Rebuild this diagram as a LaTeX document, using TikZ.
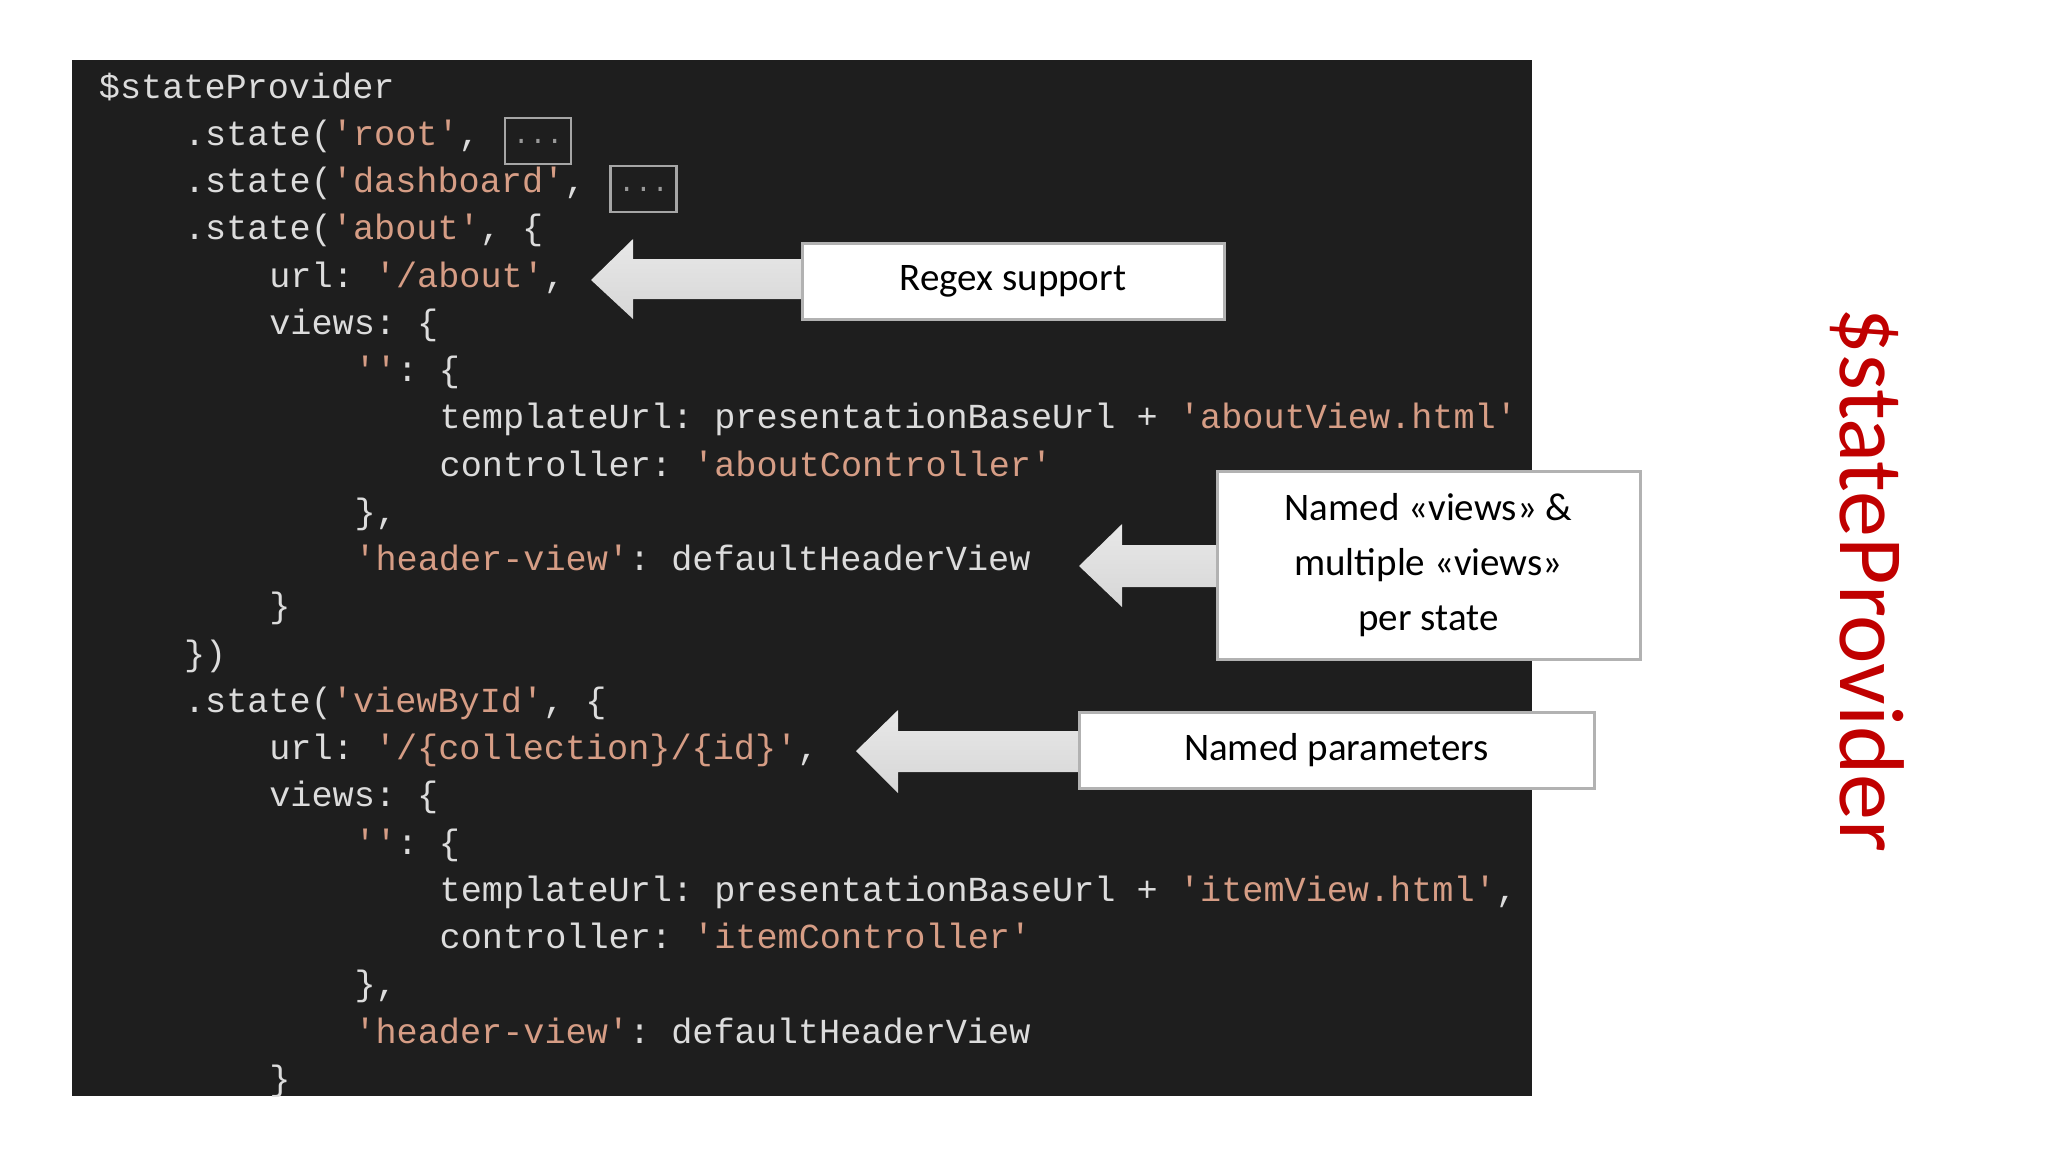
\documentclass[tikz,border=0pt]{standalone}
\usepackage{fontspec}
\setmainfont{Carlito}
\setmonofont{Liberation Mono}
\begin{document}
\definecolor{bgc}{HTML}{1E1E1E}
\definecolor{codec}{HTML}{DCDCDC}
\definecolor{strc}{HTML}{D69D85}
\definecolor{redc}{HTML}{C00000}
\newcommand\str[1]{\textcolor{strc}{#1}}
\begin{tikzpicture}[x=0.5pt,y=-0.5pt,
  code/.style={anchor=west,inner sep=0pt,text=codec,font=\ttfamily\fontsize{17.6}{20}\selectfont,text height=0.75em,text depth=0.25em},
  dots/.style={draw=gray!70,line width=1.2pt,inner sep=0pt,minimum width=33pt,minimum height=23pt,text=gray!80,font=\ttfamily\fontsize{14}{16}\selectfont},
  callout/.style={draw=gray!60,line width=1.5pt,fill=white,inner sep=0pt,font=\fontsize{19.5}{27.5}\selectfont,align=center},
  barrow/.style={top color=gray!18,bottom color=gray!32,draw=none}]
\useasboundingbox (0,0) rectangle (2048,1152);
\fill[white] (0,0) rectangle (2048,1152);
\fill[bgc] (72,60) rectangle (1532,1096);
\newcommand\cl[3]{\node[code] at ({98.5+21.3*#1},{93.2+47.25*(#2-1)}) {#3};}
\begin{scope}
\clip (72,60) rectangle (1532,1096);
\cl{0}{1}{\$stateProvider}
\cl{4}{2}{.state(\str{'root'},}
\cl{4}{3}{.state(\str{'dashboard'},}
\cl{4}{4}{.state(\str{'about'}, \{}
\cl{8}{5}{url: \str{'/about'},}
\cl{8}{6}{views: \{}
\cl{12}{7}{\str{''}: \{}
\cl{16}{8}{templateUrl: presentationBaseUrl + \str{'aboutView.html'}}
\cl{16}{9}{controller: \str{'aboutController'}}
\cl{12}{10}{\},}
\cl{12}{11}{\str{'header-view'}: defaultHeaderView}
\cl{8}{12}{\}}
\cl{4}{13}{\})}
\cl{4}{14}{.state(\str{'viewById'}, \{}
\cl{8}{15}{url: \str{'/\{collection\}/\{id\}'},}
\cl{8}{16}{views: \{}
\cl{12}{17}{\str{''}: \{}
\cl{16}{18}{templateUrl: presentationBaseUrl + \str{'itemView.html'},}
\cl{16}{19}{controller: \str{'itemController'}}
\cl{12}{20}{\},}
\cl{12}{21}{\str{'header-view'}: defaultHeaderView}
\cl{8}{22}{\}}
\end{scope}
\node[dots] (d1) at (538,141) {...};
\node[dots] (d2) at (643.5,189) {...};
% arrows
\fill[barrow] (591,280) -- (633,239) -- (633,259) -- (802,259) -- (802,299) -- (633,299) -- (633,319) -- cycle;
\fill[barrow] (1079,566) -- (1122,524) -- (1122,545) -- (1217,545) -- (1217,587) -- (1122,587) -- (1122,607) -- cycle;
\fill[barrow] (856,751) -- (898,710) -- (898,731) -- (1079,731) -- (1079,772) -- (898,772) -- (898,793) -- cycle;
\node[callout,minimum width=211pt,minimum height=38pt] (c1) at (1013,281) {Regex support};
\node[callout,minimum width=211.5pt,minimum height=94pt] (c2) at (1428.5,565) {Named «views» \&\\multiple «views»\\per state};
\node[callout,minimum width=257.5pt,minimum height=38pt] (c3) at (1336.5,750) {Named parameters};
\node[rotate=-90,text=redc,font=\fontsize{46}{50}\selectfont,inner sep=0pt] (t) at (1867,580) {\$stateProvider};
\end{tikzpicture}
\end{document}
